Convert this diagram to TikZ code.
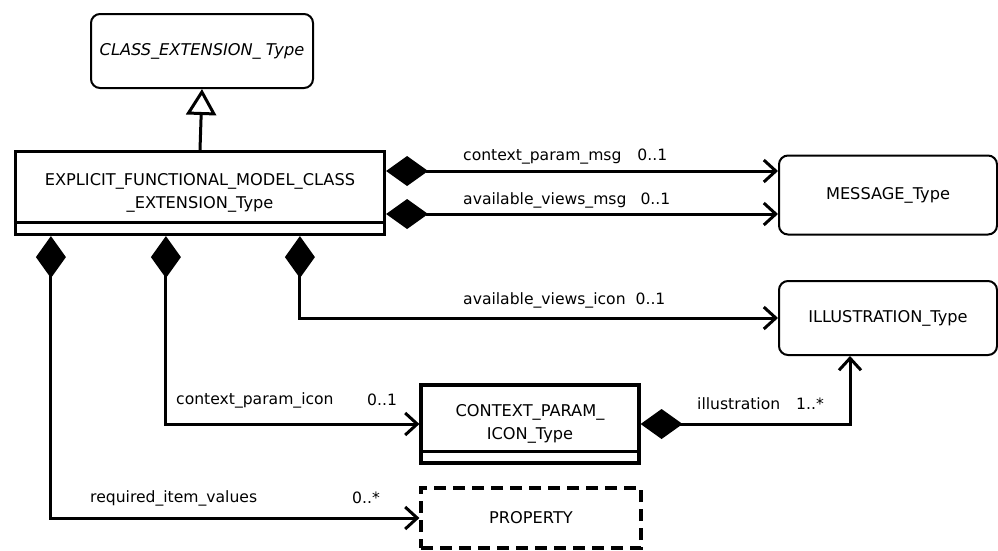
\documentclass[tikz,border=0pt]{standalone}
\usepackage{fontspec}
\setmainfont{DejaVu Sans}
\usepackage{tikz}
\usetikzlibrary{arrows.meta, positioning, calc}
\tikzset{
  % Class diagram styles
  classbox/.style={rectangle, draw=black, line width=3.2pt, fill=white, text centered, align=center, inner sep=0pt, font=\fontsize{16.2}{23}\selectfont},
  typebox/.style={rectangle, rounded corners=9pt, draw=black, line width=2pt, fill=white, text centered, align=center, inner sep=0pt, font=\fontsize{16.2}{23}\selectfont},
  refbox/.style={rectangle, draw=black, dashed, dash pattern=on 12pt off 7pt, line width=3.2pt, fill=white, text centered, inner sep=0pt, font=\fontsize{16.2}{23}\selectfont},
  lbl/.style={anchor=west, inner sep=0pt, font=\fontsize{15.6}{18}\selectfont},
  % Connector styles
  comp/.style={{Diamond[length=42pt, width=30pt]}-{Straight Barb[length=12pt, width=22pt]}, line width=3pt},
  gen/.style={-{Triangle[open, length=26pt, width=30pt, fill=white]}, line width=3pt},
}
\begin{document}
\begin{tikzpicture}[x=1pt, y=-1pt]
    \useasboundingbox (0,0) rectangle (998,550);
    % Classes
    \node[typebox, minimum width=222pt, minimum height=74pt] (ext) at (202,51) {\itshape CLASS\_EXTENSION\_ Type};
    \node[classbox, minimum width=369pt, minimum height=83pt] (main) at (200,193) {EXPLICIT\_FUNCTIONAL\_MODEL\_CLASS\\\_EXTENSION\_Type};
    \node[typebox, minimum width=218pt, minimum height=79pt] (msg) at (888,195) {MESSAGE\_Type};
    \node[typebox, minimum width=218pt, minimum height=74pt] (ill) at (888,318) {ILLUSTRATION\_Type};
    \node[classbox, minimum width=218pt, minimum height=78pt] (ctx) at (530,424) {CONTEXT\_PARAM\_\\ICON\_Type};
    \node[refbox, minimum width=220pt, minimum height=60pt] (prop) at (531,518) {PROPERTY};
    % Empty attribute compartments
    \draw[line width=3.2pt] ([yshift=14pt]main.south west) -- ([yshift=14pt]main.south east);
    \draw[line width=3.2pt] ([yshift=13pt]ctx.south west) -- ([yshift=13pt]ctx.south east);
    % Generalization
    \draw[gen] (main.north) -- (ext.south);
    % Compositions
    \draw[comp] ([yshift=22pt]main.east) -- ([yshift=22pt]main.east -| msg.west);
    \draw[comp] ([yshift=-21pt]main.east) -- ([yshift=-21pt]main.east -| msg.west);
    \draw[comp] ([xshift=286pt]main.south west) |- (ill.west);
    \draw[comp] ([xshift=152pt]main.south west) |- (ctx.west);
    \draw[comp] ([xshift=37pt]main.south west) |- (prop.west);
    \draw[comp] (ctx.east) -| ([xshift=-38pt]ill.south);
    % Role names and multiplicities
    \node[lbl] (lmsga) at (463,157) {context\_param\_msg\hspace{16pt}0..1};
    \node[lbl] (lmsgb) at (463,200) {available\_views\_msg\hspace{14pt}0..1};
    \node[lbl] (lill) at (463,300) {available\_views\_icon\hspace{10pt}0..1};
    \node[lbl] (lctx) at (176,400) {context\_param\_icon};
    \node[lbl] (mctx) at (367,400) {0..1};
    \node[lbl] (lillb) at (697,404) {illustration\hspace{16pt}1..*};
    \node[lbl] (lprop) at (90,498) {required\_item\_values};
    \node[lbl] (mprop) at (352,498) {0..*};
\end{tikzpicture}
\end{document}
